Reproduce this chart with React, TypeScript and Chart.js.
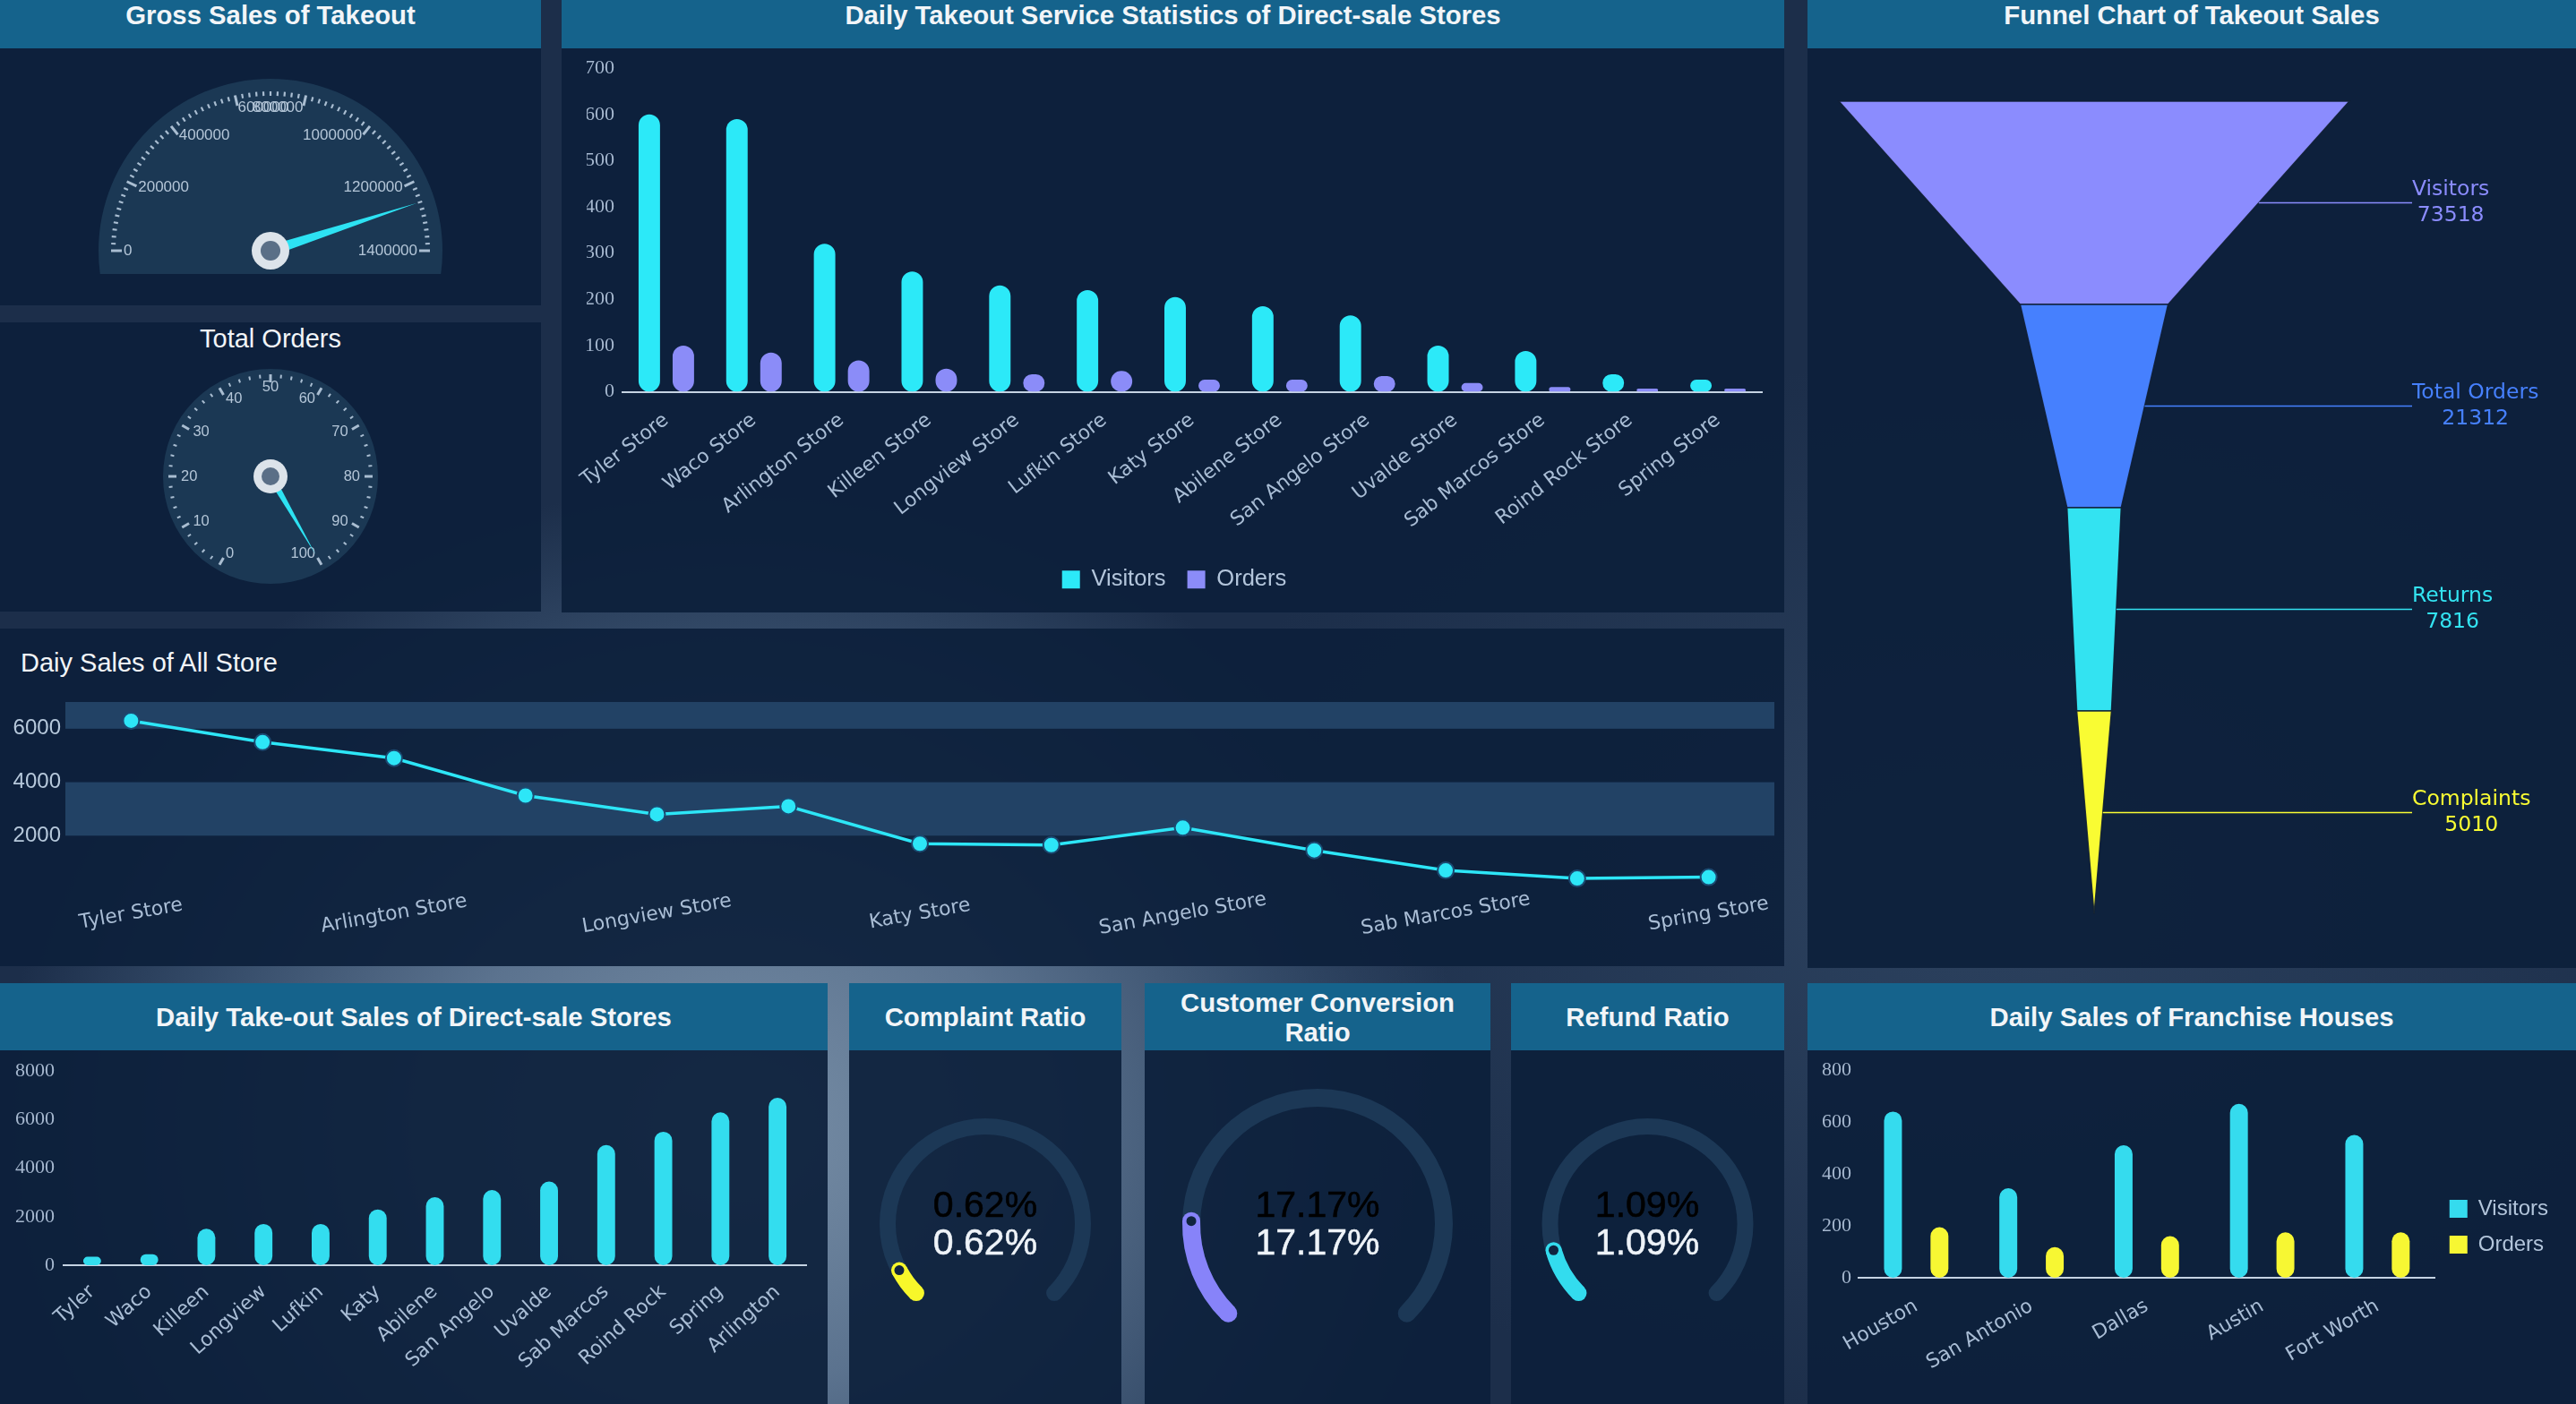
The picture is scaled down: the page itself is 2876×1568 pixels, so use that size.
import React, { useEffect, useRef } from 'react';
import { Chart, registerables } from 'chart.js';

Chart.register(...registerables);
Chart.defaults.font.family = '"Liberation Sans", Arial, Helvetica, sans-serif';

// ---------------- data ----------------
const grossSalesValue = 1260000;
const grossSalesTicks = [0, 200000, 400000, 600000, 800000, 1000000, 1200000, 1400000];

const totalOrdersValue = 100;
const totalOrdersTicks = [0, 10, 20, 30, 40, 50, 60, 70, 80, 90, 100];

const storeCategories = ['Tyler Store', 'Waco Store', 'Arlington Store', 'Killeen Store', 'Longview Store', 'Lufkin Store', 'Katy Store', 'Abilene Store', 'San Angelo Store', 'Uvalde Store', 'Sab Marcos Store', 'Roind Rock Store', 'Spring Store'];
const storeVisitors = [600, 590, 320, 260, 230, 220, 205, 185, 165, 100, 88, 38, 26];
const storeOrders = [100, 85, 68, 50, 38, 45, 26, 26, 34, 19, 10, 7, 7];
const storeAxisMax = 700;
const storeAxisStep = 100;

const dailySalesValues = [6300, 5500, 4900, 3500, 2800, 3100, 1700, 1650, 2300, 1450, 700, 400, 450];
const dailySalesAxisMax = 7000;
const dailySalesTicks = [2000, 4000, 6000];

const funnelStages = ['Visitors', 'Total Orders', 'Returns', 'Complaints'];
const funnelValues = [73518, 21312, 7816, 5010];

const takeoutCategories = ['Tyler', 'Waco', 'Killeen', 'Longview', 'Lufkin', 'Katy', 'Abilene', 'San Angelo', 'Uvalde', 'Sab Marcos', 'Roind Rock', 'Spring', 'Arlington'];
const takeoutSales = [350, 450, 1500, 1700, 1700, 2300, 2800, 3100, 3450, 4950, 5500, 6300, 6900];
const takeoutAxisMax = 8000;
const takeoutAxisStep = 2000;

const ratioTitles = ['Complaint Ratio', 'Customer Conversion Ratio', 'Refund Ratio'];
const ratioValues = [0.62, 17.17, 1.09];
const ratioMax = [10, 100, 10];

const franchiseCategories = ['Houston', 'San Antonio', 'Dallas', 'Austin', 'Fort Worth'];
const franchiseVisitors = [640, 345, 510, 670, 550];
const franchiseOrders = [195, 118, 160, 175, 175];
const franchiseAxisMax = 800;
const franchiseAxisStep = 200;

// ---------------- styles ----------------
const CYAN = '#2de6f7';
const LAVENDER = '#8b8cf8';
const YELLOW = '#f7f733';
const AXIS_TXT = '#a9bdd5';
const SERIF = '"Liberation Serif", "Times New Roman", serif';
const DEJAVU = '"DejaVu Sans", Verdana, sans-serif';
const funnelColors = ['#8b8cfe', '#4680fe', '#33e3f1', '#f9fc33'];
const ringColors = ['#f7f72a', '#8783f9', '#33dcee'];
const plainNum = (v: any) => String(v);

// ---------------- plugins ----------------
function gaugePlugin(spec: any) {
  return {
    id: 'gaugeDraw',
    beforeDatasetsDraw(chart: any) {
      const meta = chart.getDatasetMeta(0);
      const a0 = meta.data[0];
      const aN = meta.data[meta.data.length - 1];
      const cx = a0.x, cy = a0.y;
      const start = a0.startAngle, end = aN.endAngle;
      const ctx = chart.ctx;
      ctx.save();
      if (spec.clipBelow != null) {
        ctx.beginPath();
        ctx.rect(0, 0, chart.width, cy + spec.clipBelow);
        ctx.clip();
      }
      ctx.beginPath();
      ctx.arc(cx, cy, spec.bgR, 0, Math.PI * 2);
      ctx.fillStyle = '#1b3854';
      ctx.fill();
      ctx.restore();

      ctx.save();
      const N = (spec.ticks.length - 1) * spec.sub;
      ctx.strokeStyle = '#a9bdd1';
      for (let i = 0; i <= N; i++) {
        const ang = start + ((end - start) * i) / N;
        const major = i % spec.sub === 0;
        const len = major ? spec.majorLen : spec.minorLen;
        ctx.beginPath();
        ctx.moveTo(cx + Math.cos(ang) * (spec.tickR - len), cy + Math.sin(ang) * (spec.tickR - len));
        ctx.lineTo(cx + Math.cos(ang) * spec.tickR, cy + Math.sin(ang) * spec.tickR);
        ctx.lineWidth = major ? spec.majorW : spec.minorW;
        ctx.stroke();
      }
      ctx.font = `${spec.labelSize}px "Liberation Sans", Arial, sans-serif`;
      ctx.fillStyle = '#b4c6d8';
      ctx.textBaseline = 'middle';
      const M = spec.ticks.length - 1;
      spec.ticks.forEach((t: number, k: number) => {
        const ang = start + ((end - start) * k) / M;
        const ux = Math.cos(ang), uy = Math.sin(ang);
        ctx.textAlign = ux < -0.01 ? 'left' : ux > 0.01 ? 'right' : 'center';
        ctx.fillText(String(t), cx + ux * spec.labelR, cy + uy * spec.labelR);
      });
      ctx.restore();
    },
    afterDatasetsDraw(chart: any) {
      const meta = chart.getDatasetMeta(0);
      const a0 = meta.data[0];
      const cx = a0.x, cy = a0.y;
      const ang = a0.endAngle;
      const ux = Math.cos(ang), uy = Math.sin(ang);
      const px = -uy, py = ux;
      const ctx = chart.ctx;
      ctx.save();
      ctx.beginPath();
      ctx.moveTo(cx + ux * spec.needleLen, cy + uy * spec.needleLen);
      ctx.lineTo(cx + px * spec.needleW, cy + py * spec.needleW);
      ctx.lineTo(cx - ux * spec.needleW, cy - uy * spec.needleW);
      ctx.lineTo(cx - px * spec.needleW, cy - py * spec.needleW);
      ctx.closePath();
      ctx.fillStyle = '#2de2f3';
      ctx.fill();
      ctx.beginPath();
      ctx.arc(cx, cy, spec.pivotR, 0, Math.PI * 2);
      ctx.fillStyle = '#dce3ea';
      ctx.fill();
      ctx.beginPath();
      ctx.arc(cx, cy, spec.pivotIn, 0, Math.PI * 2);
      ctx.fillStyle = '#5a6f87';
      ctx.fill();
      ctx.restore();
    },
  };
}

function gaugeConfig(value: number, ticks: number[], spec: any, rotation: number, circumference: number, padding: any) {
  const min = ticks[0];
  const max = ticks[ticks.length - 1];
  return {
    type: 'doughnut',
    data: {
      datasets: [{ data: [value - min, max - value], backgroundColor: ['rgba(0,0,0,0)', 'rgba(0,0,0,0)'], borderWidth: 0 }],
    },
    options: {
      responsive: false,
      animation: false,
      events: [],
      rotation,
      circumference,
      radius: spec.bgR,
      cutout: '98%',
      layout: { padding },
      plugins: { legend: { display: false }, tooltip: { enabled: false } },
    },
    plugins: [gaugePlugin({ ...spec, ticks })],
  };
}

const gauge1Spec = { sub: 10, bgR: 192, clipBelow: 26, tickR: 178, majorLen: 12, minorLen: 5, majorW: 3, minorW: 2.2, labelR: 164, labelSize: 17, needleLen: 172, needleW: 6, pivotR: 21, pivotIn: 11 };
const gauge2Spec = { sub: 5, bgR: 120, clipBelow: null, tickR: 114, majorLen: 9, minorLen: 4, majorW: 3, minorW: 2, labelR: 100, labelSize: 16.5, needleLen: 100, needleW: 4, pivotR: 19, pivotIn: 10 };

const buildGauge1 = () => gaugeConfig(grossSalesValue, grossSalesTicks, gauge1Spec, -90, 180, { bottom: 27 });
const buildGauge2 = () => gaugeConfig(totalOrdersValue, totalOrdersTicks, gauge2Spec, 210, 300, { top: 5 });

const buildStoreBars = () => ({
  type: 'bar',
  data: {
    labels: storeCategories,
    datasets: [
      { label: 'Visitors', data: storeVisitors, backgroundColor: '#2ce9f8', borderWidth: 0, borderRadius: 12, borderSkipped: false, categoryPercentage: 0.777, barPercentage: 0.63 },
      { label: 'Orders', data: storeOrders, backgroundColor: LAVENDER, borderWidth: 0, borderRadius: 12, borderSkipped: false, categoryPercentage: 0.777, barPercentage: 0.63 },
    ],
  },
  options: {
    responsive: false,
    animation: false,
    events: [],
    layout: { padding: { left: 28, right: 25, top: 21, bottom: 14 } },
    scales: {
      x: {
        grid: { display: false, drawTicks: false },
        border: { display: true, color: '#c5d3e3', width: 2 },
        ticks: { color: AXIS_TXT, font: { family: DEJAVU, size: 22 }, minRotation: 38, maxRotation: 38, padding: 19, autoSkip: false },
        afterFit: (s: any) => { s.height = 173; },
      },
      y: {
        min: 0, max: storeAxisMax,
        ticks: { stepSize: storeAxisStep, color: '#a6b8cf', font: { family: SERIF, size: 22 }, padding: 9, callback: plainNum },
        grid: { display: false, drawTicks: false },
        border: { display: false },
        afterFit: (s: any) => { s.width = 40; },
      },
    },
    plugins: {
      legend: { position: 'bottom', labels: { color: '#b3c5db', font: { size: 25.5 }, boxWidth: 20, boxHeight: 20, padding: 24 } },
      tooltip: { enabled: false },
    },
  },
});

const splitBands = [[2000, 4000], [6000, 7000]];
const linePlugin = {
  id: 'lineExtras',
  beforeDatasetsDraw(chart: any) {
    const y = chart.scales.y;
    const { left, right } = chart.chartArea;
    const ctx = chart.ctx;
    ctx.save();
    ctx.fillStyle = '#224265';
    splitBands.forEach(([a, b]) => {
      const yt = y.getPixelForValue(b), yb = y.getPixelForValue(a);
      ctx.fillRect(left, yt, right - left, yb - yt);
    });
    ctx.restore();
  },
  afterDraw(chart: any) {
    const x = chart.scales.x;
    const ctx = chart.ctx;
    ctx.save();
    ctx.font = `22px ${DEJAVU}`;
    ctx.fillStyle = AXIS_TXT;
    ctx.textAlign = 'center';
    ctx.textBaseline = 'middle';
    storeCategories.forEach((lab, i) => {
      if (i % 2 !== 0) return;
      const px = x.getPixelForValue(i);
      ctx.save();
      ctx.translate(px, chart.chartArea.bottom + 28);
      ctx.rotate((-10 * Math.PI) / 180);
      ctx.fillText(lab, 0, 0);
      ctx.restore();
    });
    ctx.restore();
  },
};

const buildLine = () => ({
  type: 'line',
  data: {
    labels: storeCategories,
    datasets: [{ data: dailySalesValues, borderColor: CYAN, borderWidth: 3.5, pointRadius: 9, pointBackgroundColor: CYAN, pointBorderColor: '#1b4a72', pointBorderWidth: 2, tension: 0, fill: false }],
  },
  options: {
    responsive: false,
    animation: false,
    events: [],
    layout: { padding: { left: 0, right: 7, top: 82, bottom: 86 } },
    scales: {
      x: { type: 'category', offset: true, display: false },
      y: {
        min: 0, max: dailySalesAxisMax,
        afterBuildTicks: (s: any) => { s.ticks = dailySalesTicks.map((v) => ({ value: v })); },
        ticks: { color: '#b6c8db', font: { size: 24 }, padding: 5, callback: plainNum },
        grid: { display: false, drawTicks: false },
        border: { display: false },
        afterFit: (s: any) => { s.width = 73; },
      },
    },
    plugins: { legend: { display: false }, tooltip: { enabled: false } },
  },
  plugins: [linePlugin],
});

const funnelPlugin = {
  id: 'funnelDraw',
  afterDatasetsDraw(chart: any) {
    const meta = chart.getDatasetMeta(0);
    const xs = chart.scales.x;
    const ctx = chart.ctx;
    const labelX = 675;
    ctx.save();
    meta.data.forEach((el: any, i: number) => {
      const { x, y, base, height } = el.getProps(['x', 'y', 'base', 'height'], true);
      const top = y - height / 2, bot = y + height / 2;
      let nx: number, nb: number;
      if (i + 1 < meta.data.length) {
        const n = meta.data[i + 1].getProps(['x', 'base'], true);
        nx = n.x; nb = n.base;
      } else {
        nx = nb = xs.getPixelForValue(0);
      }
      ctx.beginPath();
      ctx.moveTo(base, top);
      ctx.lineTo(x, top);
      ctx.lineTo(nx, bot);
      ctx.lineTo(nb, bot);
      ctx.closePath();
      ctx.fillStyle = funnelColors[i];
      ctx.fill();
      ctx.strokeStyle = 'rgba(16,30,52,0.9)';
      ctx.lineWidth = 1.5;
      ctx.stroke();
      ctx.beginPath();
      ctx.moveTo((x + nx) / 2, y);
      ctx.lineTo(labelX, y);
      ctx.strokeStyle = funnelColors[i];
      ctx.lineWidth = 1.6;
      ctx.stroke();
      ctx.font = `23.5px ${DEJAVU}`;
      const l1 = funnelStages[i], l2 = String(funnelValues[i]);
      const w = Math.max(ctx.measureText(l1).width, ctx.measureText(l2).width);
      ctx.textAlign = 'center';
      ctx.textBaseline = 'middle';
      ctx.fillStyle = funnelColors[i];
      ctx.fillText(l1, labelX + w / 2, y - 14.5);
      ctx.fillText(l2, labelX + w / 2, y + 14.5);
    });
    ctx.restore();
  },
};

const buildFunnel = () => {
  const top = Math.max(...funnelValues);
  return {
    type: 'bar',
    data: {
      labels: funnelStages,
      datasets: [{ data: funnelValues.map((v) => [-v / 2, v / 2]), backgroundColor: 'rgba(0,0,0,0)', borderWidth: 0, categoryPercentage: 1, barPercentage: 1 }],
    },
    options: {
      indexAxis: 'y',
      responsive: false,
      animation: false,
      events: [],
      layout: { padding: { left: 35, right: 253, top: 59, bottom: 60 } },
      scales: {
        x: { type: 'linear', min: -top / 2, max: top / 2, display: false },
        y: { type: 'category', display: false },
      },
      plugins: { legend: { display: false }, tooltip: { enabled: false } },
    },
    plugins: [funnelPlugin],
  };
};

const buildTakeout = () => ({
  type: 'bar',
  data: {
    labels: takeoutCategories,
    datasets: [{ label: 'Sales', data: takeoutSales, backgroundColor: '#33ddef', borderWidth: 0, borderRadius: 10, borderSkipped: false, categoryPercentage: 0.8, barPercentage: 0.39 }],
  },
  options: {
    responsive: false,
    animation: false,
    events: [],
    layout: { padding: { left: 0, right: 24, top: 22, bottom: 0 } },
    scales: {
      x: {
        grid: { display: false, drawTicks: false },
        border: { display: true, color: '#c5d3e3', width: 2 },
        ticks: { color: AXIS_TXT, font: { family: DEJAVU, size: 22 }, minRotation: 42, maxRotation: 42, padding: 17, autoSkip: false },
        afterFit: (s: any) => { s.height = 155; },
      },
      y: {
        min: 0, max: takeoutAxisMax,
        ticks: { stepSize: takeoutAxisStep, color: '#a6b8cf', font: { family: SERIF, size: 22 }, padding: 10, callback: plainNum },
        grid: { display: false, drawTicks: false },
        border: { display: false },
        afterFit: (s: any) => { s.width = 71; },
      },
    },
    plugins: { legend: { display: false }, tooltip: { enabled: false } },
  },
});

const buildFranchise = () => ({
  type: 'bar',
  data: {
    labels: franchiseCategories,
    datasets: [
      { label: 'Visitors', data: franchiseVisitors, backgroundColor: '#35dbee', borderWidth: 0, borderRadius: 10, borderSkipped: false, categoryPercentage: 0.806, barPercentage: 0.385 },
      { label: 'Orders', data: franchiseOrders, backgroundColor: YELLOW, borderWidth: 0, borderRadius: 10, borderSkipped: false, categoryPercentage: 0.806, barPercentage: 0.385 },
    ],
  },
  options: {
    responsive: false,
    animation: false,
    events: [],
    layout: { padding: { left: 0, right: 21, top: 22, bottom: 23 } },
    scales: {
      x: {
        grid: { display: false, drawTicks: false },
        border: { display: true, color: '#c5d3e3', width: 2 },
        ticks: { color: AXIS_TXT, font: { family: DEJAVU, size: 22 }, minRotation: 30, maxRotation: 30, padding: 19, autoSkip: false },
        afterFit: (s: any) => { s.height = 118; },
      },
      y: {
        min: 0, max: franchiseAxisMax,
        ticks: { stepSize: franchiseAxisStep, color: '#a6b8cf', font: { family: SERIF, size: 22 }, padding: 8, callback: plainNum },
        grid: { display: false, drawTicks: false },
        border: { display: false },
        afterFit: (s: any) => { s.width = 57; },
      },
    },
    plugins: {
      legend: { position: 'right', labels: { color: '#b3c5db', font: { size: 24 }, boxWidth: 20, boxHeight: 20, padding: 16 } },
      tooltip: { enabled: false },
    },
  },
});

function ringPlugin(color: string) {
  return {
    id: 'ringDraw',
    beforeDatasetsDraw(chart: any) {
      const meta = chart.getDatasetMeta(0);
      const a0 = meta.data[0], a1 = meta.data[1];
      const r = (a0.innerRadius + a0.outerRadius) / 2;
      const w = a0.outerRadius - a0.innerRadius;
      const ctx = chart.ctx;
      ctx.save();
      ctx.beginPath();
      ctx.arc(a0.x, a0.y, r, a0.startAngle, a1.endAngle);
      ctx.lineWidth = w;
      ctx.lineCap = 'round';
      ctx.strokeStyle = '#1c3856';
      ctx.stroke();
      ctx.restore();
    },
    afterDatasetsDraw(chart: any) {
      const meta = chart.getDatasetMeta(0);
      const a0 = meta.data[0];
      const r = (a0.innerRadius + a0.outerRadius) / 2;
      const w = a0.outerRadius - a0.innerRadius;
      const ctx = chart.ctx;
      ctx.save();
      [a0.startAngle, a0.endAngle].forEach((ang: number) => {
        ctx.beginPath();
        ctx.arc(a0.x + Math.cos(ang) * r, a0.y + Math.sin(ang) * r, w / 2, 0, Math.PI * 2);
        ctx.fillStyle = color;
        ctx.fill();
      });
      ctx.beginPath();
      ctx.arc(a0.x + Math.cos(a0.endAngle) * r, a0.y + Math.sin(a0.endAngle) * r, 5.5, 0, Math.PI * 2);
      ctx.fillStyle = '#10243f';
      ctx.fill();
      ctx.restore();
    },
  };
}

function ringConfig(i: number, outer: number, inner: number, padBottom: number) {
  return {
    type: 'doughnut',
    data: {
      datasets: [{ data: [ratioValues[i], ratioMax[i] - ratioValues[i]], backgroundColor: [ringColors[i], 'rgba(0,0,0,0)'], borderWidth: 0 }],
    },
    options: {
      responsive: false,
      animation: false,
      events: [],
      rotation: 225,
      circumference: 270,
      radius: outer,
      cutout: `${(inner / outer) * 100}%`,
      layout: { padding: { bottom: padBottom } },
      plugins: { legend: { display: false }, tooltip: { enabled: false } },
    },
    plugins: [ringPlugin(ringColors[i])],
  };
}
const buildRing0 = () => ringConfig(0, 118, 100, 41.6);
const buildRing1 = () => ringConfig(1, 151, 131, 51.2);
const buildRing2 = () => ringConfig(2, 118, 100, 41.6);

// ---------------- components ----------------
function ChartCanvas(props: { left: number; top: number; width: number; height: number; build: () => any }) {
  const ref = useRef<HTMLCanvasElement | null>(null);
  const { build } = props;
  useEffect(() => {
    if (!ref.current) return;
    const chart = new Chart(ref.current, build());
    return () => chart.destroy();
  }, [build]);
  return (
    <canvas
      ref={ref}
      width={props.width}
      height={props.height}
      style={{ position: 'absolute', left: props.left, top: props.top, width: props.width, height: props.height }}
    />
  );
}

const PANEL_BG = 'rgba(12,31,59,0.92)';
const HEADER_BG = '#15638c';
const TITLE_FONT = '"Liberation Sans", Arial, Helvetica, sans-serif';

function Panel(props: { left: number; top: number; width: number; height: number; title?: string; headerH?: number; centered?: boolean }) {
  const { left, top, width, height, title, headerH, centered } = props;
  return (
    <div style={{ position: 'absolute', left, top, width, height, background: PANEL_BG }}>
      {title != null && (
        <div
          style={{
            position: 'absolute', left: 0, top: 0, width, height: headerH, background: HEADER_BG,
            display: 'flex', justifyContent: 'center', alignItems: centered ? 'center' : 'flex-start',
            color: '#f2f5f8', fontFamily: TITLE_FONT, fontWeight: 700, fontSize: 29.3,
            lineHeight: centered ? '33px' : '34px', textAlign: 'center', boxSizing: 'border-box', padding: '0 16px',
          }}
        >
          {title}
        </div>
      )}
    </div>
  );
}

function RingText(props: { cx: number; cy: number; text: string }) {
  const base: any = { position: 'absolute', width: 300, left: props.cx - 150, textAlign: 'center', fontFamily: TITLE_FONT, fontSize: 41, lineHeight: '44px' };
  return (
    <>
      <div style={{ ...base, top: props.cy - 22 - 22, color: '#000000', WebkitTextStroke: '0.6px #000000' }}>{props.text}</div>
      <div style={{ ...base, top: props.cy + 20 - 22, color: '#eef3f8', WebkitTextStroke: '0.5px #eef3f8' }}>{props.text}</div>
    </>
  );
}

export default function App() {
  const bottomTop = 1098;
  const bottomH = 470;
  return (
    <div
      style={{
        position: 'relative', width: 2876, height: 1568, overflow: 'hidden',
        background:
          'radial-gradient(ellipse 820px 720px at 820px 1260px, rgba(125,148,172,0.95) 0%, rgba(98,122,150,0.9) 40%, rgba(60,84,114,0.75) 75%, rgba(30,48,76,0) 100%), radial-gradient(ellipse 900px 600px at 2200px 1000px, rgba(60,85,115,0.5), rgba(30,48,76,0) 100%), #1c2e4a',
      }}
    >
      <style>{'html,body{margin:0;padding:0;overflow:hidden;background:#1c2e4a}'}</style>

      <Panel left={0} top={0} width={604} height={341} title="Gross Sales of Takeout" headerH={54} />
      <Panel left={0} top={360} width={604} height={323} />
      <Panel left={627} top={0} width={1365} height={684} title="Daily Takeout Service Statistics of Direct-sale Stores" headerH={54} />
      <Panel left={2018} top={0} width={858} height={1081} title="Funnel Chart of Takeout Sales" headerH={54} />
      <Panel left={0} top={702} width={1992} height={377} />
      <Panel left={0} top={bottomTop} width={924} height={bottomH} title="Daily Take-out Sales of Direct-sale Stores" headerH={75} centered />
      <Panel left={948} top={bottomTop} width={304} height={bottomH} title={ratioTitles[0]} headerH={75} centered />
      <Panel left={1278} top={bottomTop} width={386} height={bottomH} title={ratioTitles[1]} headerH={75} centered />
      <Panel left={1687} top={bottomTop} width={305} height={bottomH} title={ratioTitles[2]} headerH={75} centered />
      <Panel left={2018} top={bottomTop} width={858} height={bottomH} title="Daily Sales of Franchise Houses" headerH={75} centered />

      <div style={{ position: 'absolute', left: 0, top: 360, width: 604, textAlign: 'center', color: '#f2f5f8', fontFamily: TITLE_FONT, fontSize: 29, lineHeight: '36px' }}>Total Orders</div>
      <div style={{ position: 'absolute', left: 23, top: 722, color: '#f2f5f8', fontFamily: TITLE_FONT, fontSize: 29, lineHeight: '36px' }}>Daiy Sales of All Store</div>

      <ChartCanvas left={0} top={54} width={604} height={287} build={buildGauge1} />
      <ChartCanvas left={0} top={360} width={604} height={323} build={buildGauge2} />
      <ChartCanvas left={627} top={54} width={1365} height={630} build={buildStoreBars} />
      <ChartCanvas left={2018} top={54} width={858} height={1027} build={buildFunnel} />
      <ChartCanvas left={0} top={702} width={1992} height={377} build={buildLine} />
      <ChartCanvas left={0} top={1173} width={924} height={395} build={buildTakeout} />
      <ChartCanvas left={948} top={1173} width={304} height={395} build={buildRing0} />
      <ChartCanvas left={1278} top={1173} width={386} height={395} build={buildRing1} />
      <ChartCanvas left={1687} top={1173} width={305} height={395} build={buildRing2} />
      <ChartCanvas left={2018} top={1173} width={858} height={395} build={buildFranchise} />

      <RingText cx={1100} cy={1367} text={`${ratioValues[0]}%`} />
      <RingText cx={1471} cy={1367} text={`${ratioValues[1]}%`} />
      <RingText cx={1839} cy={1367} text={`${ratioValues[2]}%`} />
    </div>
  );
}
